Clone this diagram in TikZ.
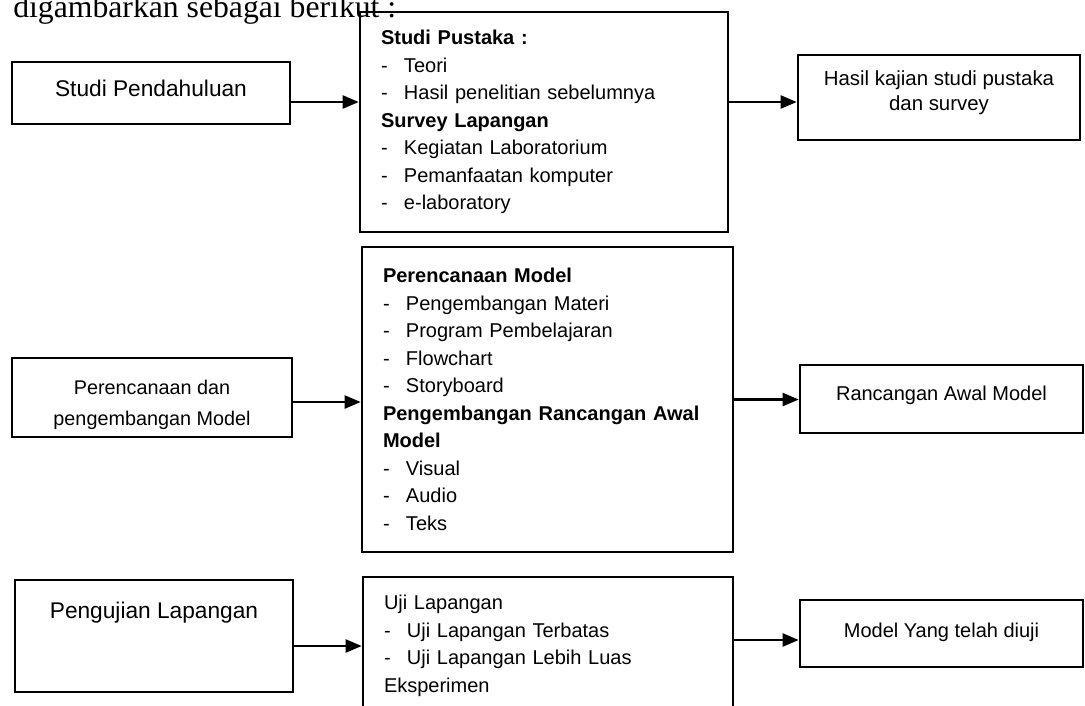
\documentclass[tikz,border=0pt]{standalone}
\usepackage{fontspec}
\setmainfont{Liberation Sans}
\newfontfamily\serifhead{Liberation Serif}
\usepackage{tikz}
\usetikzlibrary{positioning}
\usetikzlibrary{arrows.meta}
\newcommand{\itm}[1]{\makebox[23pt][l]{-}#1}

\begin{document}
\begin{tikzpicture}[
  x=1pt, y=-1pt,
  line width=2.6pt,
  font=\fontsize{20}{27.5}\selectfont
]
\tikzset{
    boxnode/.style = {rectangle, draw=black, inner sep=0pt, align=center},
    listnode/.style = {rectangle, draw=black, inner xsep=21pt, inner ysep=0pt, align=left},
    bigtext/.style = {font=\fontsize{22.7}{27}\selectfont},
    flowarrow/.style = {-{Triangle[length=16pt,width=13pt]}, line width=2.2pt}
}
\clip (0,0) rectangle (1085,705);

\node[anchor=base west, inner sep=0pt, font=\serifhead\fontsize{31.7}{36}\selectfont] (intro) at (12,17) {digambarkan sebagai berikut :};

% baris 1
\node[boxnode, bigtext, minimum width=278pt, text height=34pt, text depth=28pt] (pendahuluan) at (151,93) {Studi Pendahuluan};
\node[listnode, text width=326pt, minimum height=220pt] (pustaka) at (544,122) {
  \textbf{Studi Pustaka :}\\
  \itm{Teori}\\
  \itm{Hasil penelitian sebelumnya}\\
  \textbf{Survey Lapangan}\\
  \itm{Kegiatan Laboratorium}\\
  \itm{Pemanfaatan komputer}\\
  \itm{e-laboratory}};
\node[boxnode, minimum width=282pt, text height=55pt, text depth=30pt, font=\fontsize{20.4}{25}\selectfont] (hasil) at (939,97.5) {Hasil kajian studi pustaka\\dan survey};

% baris 2
\node[boxnode, minimum width=280pt, text height=67pt, text depth=12pt, font=\fontsize{19.8}{31}\selectfont] (perencanaan) at (152,397.5) {Perencanaan dan\\pengembangan Model};
\node[listnode, text width=329pt, minimum height=305pt] (rancangan) at (547.5,399.5) {
  \textbf{Perencanaan Model}\\
  \itm{Pengembangan Materi}\\
  \itm{Program Pembelajaran}\\
  \itm{Flowchart}\\
  \itm{Storyboard}\\
  \textbf{Pengembangan Rancangan Awal}\\
  \textbf{Model}\\
  \itm{Visual}\\
  \itm{Audio}\\
  \itm{Teks}};
\node[boxnode, minimum width=283pt, text height=35pt, text depth=33pt] (awal) at (941.5,399) {Rancangan Awal Model};

% baris 3
\node[boxnode, bigtext, minimum width=278pt, text height=38pt, text depth=74pt] (pengujian) at (154,636) {Pengujian Lapangan};
\node[listnode, text width=328pt, minimum height=138pt] (uji) at (548,646) {
  Uji Lapangan\\
  \itm{Uji Lapangan Terbatas}\\
  \itm{Uji Lapangan Lebih Luas}\\
  Eksperimen};
\node[boxnode, minimum width=283pt, text height=37pt, text depth=30pt] (diuji) at (941.5,633.5) {Model Yang telah diuji};

% panah
\draw[flowarrow] ([yshift=-9pt]pendahuluan.east) -- ([yshift=-9pt]pendahuluan.east -| pustaka.west);
\draw[flowarrow] ([yshift=20pt]pustaka.east) -- ([yshift=20pt]pustaka.east -| hasil.west);
\draw[flowarrow] ([yshift=-4.5pt]perencanaan.east) -- ([yshift=-4.5pt]perencanaan.east -| rancangan.west);
\draw[flowarrow] (rancangan.east) -- (rancangan.east -| awal.west);
\draw[flowarrow] ([yshift=-10pt]pengujian.east) -- ([yshift=-10pt]pengujian.east -| uji.west);
\draw[flowarrow] ([yshift=6pt]uji.east) -- ([yshift=6pt]uji.east -| diuji.west);
\end{tikzpicture}
\end{document}
